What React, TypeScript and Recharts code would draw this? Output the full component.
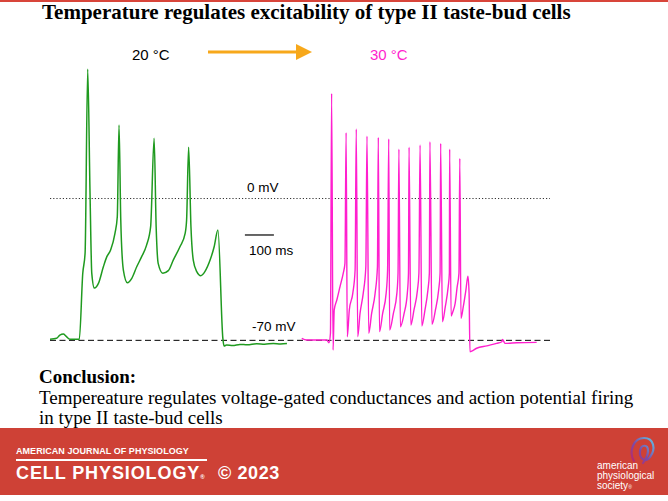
import React from "react";
import { LineChart, Line, XAxis, YAxis, ReferenceLine } from "recharts";

// 20 °C recording: time (ms) and membrane potential (mV)
const coolTime = [
  0, 23, 34, 46, 55, 69, 101, 113, 121, 130, 138, 144, 153, 167, 184, 196, 209,
  224, 232, 238, 244, 253, 267, 282, 299, 316, 333, 347, 359, 366, 373, 389,
  408, 425, 448, 466, 471, 478, 486, 494, 506, 520, 534, 552, 566, 579, 596,
  600, 609, 630, 655, 680, 713, 740, 770, 795, 817,
];
const coolVolt = [
  -69.5, -69.0, -67.4, -66.9, -67.9, -69.5, -69.5, -36.9, -26.9, 63.8, 2.7,
  -36.8, -44.2, -41.9, -33.7, -28.7, -25.4, -17.2, -9.0, 36.3, -10.6, -35.3,
  -41.6, -39.4, -33.7, -28.7, -23.0, -13.9, 29.7, -13.9, -32.0, -36.9, -35.6,
  -30.4, -23.8, -17.2, -10.6, 25.3, -13.9, -30.4, -36.1, -38.1, -36.1, -30.4,
  -23.8, -15.5, -69.0, -72.8, -72.3, -72.6, -72.0, -72.2, -71.7, -71.9, -71.5,
  -71.8, -71.6,
];

// 30 °C recording: time (ms) and membrane potential (mV)
const warmTime = [
  868, 885, 920, 954, 962, 967, 971, 976, 980, 989, 1000, 1011, 1017, 1021,
  1025, 1032, 1044, 1052, 1056, 1061, 1069, 1080, 1089, 1093, 1099, 1109, 1121,
  1129, 1132, 1136, 1147, 1159, 1164, 1168, 1171, 1184, 1196, 1200, 1203, 1208,
  1221, 1232, 1236, 1238, 1244, 1255, 1267, 1272, 1276, 1282, 1293, 1303, 1308,
  1310, 1317, 1329, 1340, 1345, 1347, 1353, 1363, 1373, 1377, 1378, 1383, 1389,
  1397, 1404, 1410, 1413, 1417, 1425, 1434, 1441, 1445, 1448, 1454, 1471, 1506,
  1540, 1558, 1560, 1569, 1609, 1678,
];
const warmVolt = [
  -69.0, -69.8, -69.8, -69.8, -71.2, -66.5, 51.9, -74.8, -55.0, -50.1, -43.5,
  -36.9, -32.0, 32.5, -68.2, -55.0, -46.8, -35.3, 34.3, -68.2, -56.7, -46.8,
  -33.7, 30.8, -66.5, -56.7, -46.8, -33.7, 30.2, -65.7, -56.7, -46.8, -35.3,
  29.4, -64.9, -56.7, -46.8, -36.9, 24.4, -63.3, -56.7, -46.8, -36.9, 25.3,
  -62.4, -55.0, -45.2, -36.9, 26.4, -62.9, -55.0, -45.2, -36.9, 28.0, -62.1,
  -55.0, -45.2, -36.9, 27.2, -60.8, -53.4, -43.5, -36.9, 24.4, -58.0, -55.9,
  -51.7, -43.5, -36.9, 19.8, -59.1, -53.4, -45.2, -38.3, -46.8, -75.6, -75.3,
  -73.9, -72.7, -71.5, -70.7, -69.5, -71.5, -71.2, -71.0,
];

const coolData = coolTime.map((t, i) => ({ t, v: coolVolt[i] }));
const warmData = warmTime.map((t, i) => ({ t, v: warmVolt[i] }));

const sans = '"Liberation Sans", Arial, sans-serif';
const serif = '"Liberation Serif", "Times New Roman", serif';

function Txt({
  x,
  cy,
  size,
  children,
  bold = false,
  font = sans,
  color = "#000",
  spacing = 0,
}: {
  x: number;
  cy: number;
  size: number;
  children: React.ReactNode;
  bold?: boolean;
  font?: string;
  color?: string;
  spacing?: number;
}) {
  return (
    <div
      style={{
        position: "absolute",
        left: x,
        top: cy - size / 2,
        fontSize: size,
        lineHeight: `${size}px`,
        fontFamily: font,
        fontWeight: bold ? 700 : 400,
        color,
        letterSpacing: spacing,
        whiteSpace: "nowrap",
      }}
    >
      {children}
    </div>
  );
}

export default function App() {
  return (
    <div
      style={{
        position: "absolute",
        left: 0,
        top: 0,
        width: 668,
        height: 501,
        background: "#fff",
        overflow: "hidden",
      }}
    >
      <div style={{ position: "absolute", left: 0, top: 0, width: 668, height: 2, background: "#d8453a" }} />
      <Txt x={42} cy={12} size={21} bold font={serif}>
        Temperature regulates excitability of type II taste-bud cells
      </Txt>

      <Txt x={132} cy={54} size={15}>20 °C</Txt>
      <svg style={{ position: "absolute", left: 205, top: 40 }} width={112} height={24}>
        <line x1={3} y1={12} x2={94} y2={12} stroke="#f7a81b" strokeWidth={3.2} />
        <polygon points="91,4 107,12 91,20" fill="#f7a81b" />
      </svg>
      <Txt x={370} cy={54} size={15} color="#ff1fce">30 °C</Txt>

      <div style={{ position: "absolute", left: 0, top: 0 }}>
        <LineChart
          width={668}
          height={501}
          margin={{ top: 56.7, right: 118, bottom: 140.4, left: 50 }}
        >
          <XAxis type="number" dataKey="t" domain={[0, 1724]} hide allowDataOverflow />
          <YAxis type="number" dataKey="v" domain={[-80, 70]} hide allowDataOverflow />
          <ReferenceLine y={0} stroke="#333" strokeDasharray="1.2 2" strokeWidth={1} />
          <ReferenceLine y={-70} stroke="#000" strokeDasharray="6 3.5" strokeWidth={1} />
          <ReferenceLine
            segment={[
              { x: 672, y: -18 },
              { x: 772, y: -18 },
            ]}
            stroke="#000"
            strokeWidth={1.2}
          />
          <Line
            data={coolData}
            dataKey="v"
            type="monotone"
            stroke="#1f9a1f"
            strokeWidth={1.5}
            dot={false}
            isAnimationActive={false}
          />
          <Line
            data={warmData}
            dataKey="v"
            type="monotone"
            stroke="#ff1fce"
            strokeWidth={1.4}
            dot={false}
            isAnimationActive={false}
          />
        </LineChart>
      </div>

      <Txt x={247} cy={188} size={13.5}>0 mV</Txt>
      <Txt x={249} cy={251} size={13.5}>100 ms</Txt>
      <Txt x={252} cy={327} size={13.5}>-70 mV</Txt>

      <Txt x={39} cy={376} size={19} bold font={serif}>Conclusion:</Txt>
      <Txt x={39} cy={397} size={19} font={serif}>
        Tempereature regulates voltage-gated conductances and action potential firing
      </Txt>
      <Txt x={39} cy={417} size={19} font={serif}>in type II taste-bud cells</Txt>

      <div style={{ position: "absolute", left: 0, top: 428, width: 668, height: 67, background: "#ce4136" }} />
      <Txt x={16} cy={451} size={9} bold color="#fff" spacing={0.05}>
        AMERICAN JOURNAL OF PHYSIOLOGY
      </Txt>
      <div style={{ position: "absolute", left: 16, top: 459, width: 191, height: 2, background: "#fff" }} />
      <Txt x={16} cy={473} size={18} bold color="#fff" spacing={0.9}>
        CELL PHYSIOLOGY<span style={{ fontSize: 6 }}>®</span>
      </Txt>
      <Txt x={218} cy={473} size={18} bold color="#fff" spacing={0.6}>© 2023</Txt>

      <svg style={{ position: "absolute", left: 626, top: 434 }} width={32} height={32}>
        <defs>
          <linearGradient id="aps" x1="1" y1="0" x2="0" y2="1">
            <stop offset="0" stopColor="#5fc3e4" />
            <stop offset="0.55" stopColor="#7a4aa8" />
            <stop offset="1" stopColor="#c4245e" />
          </linearGradient>
        </defs>
        <path
          d="M8 27 C2 17 8 4 18 4 C28 4 30 15 24 23 C20 29 13 25 14 17 C15 10 22 10 22 17 C22 22 19 26 17 29"
          fill="none"
          stroke="url(#aps)"
          strokeWidth={2.2}
          strokeLinecap="round"
        />
      </svg>
      <Txt x={597} cy={466} size={10} color="#fff">american</Txt>
      <Txt x={597} cy={476} size={10} color="#fff">physiological</Txt>
      <Txt x={597} cy={486} size={10} color="#fff">society<span style={{ fontSize: 5 }}>®</span></Txt>
    </div>
  );
}
